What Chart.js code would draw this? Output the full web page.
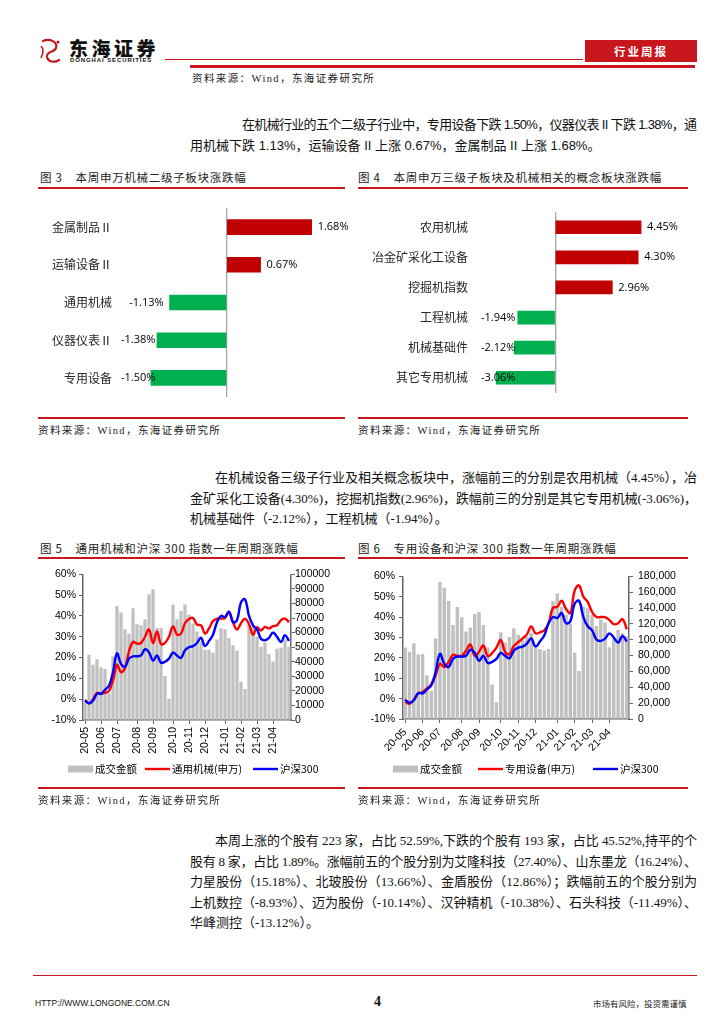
<!DOCTYPE html>
<html lang="zh-CN">
<head>
<meta charset="utf-8">
<title>机械行业周报</title>
<script src="https://cdn.jsdelivr.net/npm/chart.js@4.4.1/dist/chart.umd.min.js"></script>
<style>
  html, body { margin: 0; padding: 0; background: #fff; }
  body { width: 724px; height: 1024px; position: relative; overflow: hidden;
         font-family: "Liberation Serif", "Noto Sans CJK SC", serif; color: #111; }
  .abs { position: absolute; }
  .rule { position: absolute; background: #c8161d; }
  .cap { position: absolute; font-family: "Noto Sans CJK SC", sans-serif; font-size: 11.5px;
         letter-spacing: 0.7px; color: #222; white-space: nowrap; line-height: 14px; }
  .cap b { font-weight: normal; margin-left: 13px; }
  .src { position: absolute; font-family: "Liberation Serif", "Noto Sans CJK SC", serif; font-size: 10.5px;
         letter-spacing: 1.4px; color: #222; white-space: nowrap; line-height: 13px; }
  .txt { position: absolute; font-size: 13px; line-height: 16px; white-space: nowrap; color: #111; }
  .sans { font-family: "Liberation Sans", "Noto Sans CJK SC", sans-serif; }
  canvas { position: absolute; }
</style>
</head>
<body>

<!-- header -->
<svg class="abs" style="left:38px;top:37px" width="26" height="28" viewBox="0 0 26 28">
  <path d="M5 4 C12 1 20 5 18 11 C16 16 8 14 9 20 C10 25 17 26 21 23" fill="none" stroke="#c8161d" stroke-width="2.2" stroke-linecap="round"/>
  <path d="M3 9 C6 12 5 17 3 21" fill="none" stroke="#c8161d" stroke-width="1.6"/>
  <circle cx="20" cy="5" r="1.6" fill="#c8161d"/>
</svg>
<div class="abs" style="left:69px;top:38px;font:900 19px 'Noto Sans CJK SC';letter-spacing:3.5px;line-height:20px;color:#111">东海证券</div>
<div class="abs" style="left:70px;top:57px;font:bold 6px 'Liberation Sans';letter-spacing:0.9px;line-height:7px;color:#111">DONGHAI SECURITIES</div>
<div class="rule" style="left:165px;top:58.5px;width:418px;height:1.2px"></div>
<div class="abs" style="left:585px;top:40px;width:112px;height:22px;background:#c8161d;color:#fff;font:bold 11.5px 'Noto Sans CJK SC';letter-spacing:2px;line-height:22px;text-align:center">行业周报</div>
<div class="rule" style="left:190px;top:65px;width:505px;height:3px"></div>
<div class="src" style="left:192px;top:71.5px">资料来源：Wind，东海证券研究所</div>

<!-- paragraph 1 -->
<div class="txt fit" style="left:242px;top:117px"><span>在机械行业的五个二级子行业中，专用设备下跌<span class="sans"> 1.50%</span>，仪器仪表<span class="sans"> II </span>下跌<span class="sans"> 1.38%</span>，通</span></div>
<div class="txt" style="left:190px;top:138px"><span>用机械下跌<span class="sans"> 1.13%</span>，运输设备<span class="sans"> II </span>上涨<span class="sans"> 0.67%</span>，金属制品<span class="sans"> II </span>上涨<span class="sans"> 1.68%</span>。</span></div>

<!-- figures 3 / 4 -->
<div class="cap" style="left:40px;top:170px">图 3<b>本周申万机械二级子板块涨跌幅</b></div>
<div class="rule" style="left:38px;top:187px;width:307px;height:1.6px"></div>
<div class="cap" style="left:358px;top:170px">图 4<b>本周申万三级子板块及机械相关的概念板块涨跌幅</b></div>
<div class="rule" style="left:358px;top:187px;width:330px;height:1.6px"></div>
<canvas id="c3" width="310" height="215" style="left:38px;top:195px;width:310px;height:215px"></canvas>
<canvas id="c4" width="335" height="215" style="left:358px;top:195px;width:335px;height:215px"></canvas>
<div class="rule" style="left:38px;top:417px;width:307px;height:1.6px"></div>
<div class="rule" style="left:358px;top:417px;width:330px;height:1.6px"></div>
<div class="src" style="left:38px;top:423.5px">资料来源：Wind，东海证券研究所</div>
<div class="src" style="left:358px;top:423.5px">资料来源：Wind，东海证券研究所</div>

<!-- paragraph 2 -->
<div class="txt fit" style="left:215px;top:470px"><span>在机械设备三级子行业及相关概念板块中，涨幅前三的分别是农用机械（4.45%），冶</span></div>
<div class="txt fit" style="left:190px;top:490.5px"><span>金矿采化工设备(4.30%)，挖掘机指数(2.96%)，跌幅前三的分别是其它专用机械(-3.06%)，</span></div>
<div class="txt" style="left:190px;top:511px"><span>机械基础件（-2.12%），工程机械（-1.94%）。</span></div>

<!-- figures 5 / 6 -->
<div class="cap" style="left:40px;top:541px">图 5<b>通用机械和沪深 300 指数一年周期涨跌幅</b></div>
<div class="rule" style="left:38px;top:557px;width:307px;height:1.6px"></div>
<div class="cap" style="left:358px;top:541px">图 6<b>专用设备和沪深 300 指数一年周期涨跌幅</b></div>
<div class="rule" style="left:358px;top:557px;width:330px;height:1.6px"></div>
<canvas id="c5" width="320" height="225" style="left:30px;top:565px;width:320px;height:225px"></canvas>
<canvas id="c6" width="345" height="225" style="left:350px;top:565px;width:345px;height:225px"></canvas>
<div class="rule" style="left:38px;top:787px;width:307px;height:1.6px"></div>
<div class="rule" style="left:358px;top:787px;width:330px;height:1.6px"></div>
<div class="src" style="left:38px;top:793.5px">资料来源：Wind，东海证券研究所</div>
<div class="src" style="left:358px;top:793.5px">资料来源：Wind，东海证券研究所</div>

<!-- paragraph 3 -->
<div class="txt fit" style="left:215px;top:833px"><span>本周上涨的个股有 223 家，占比 52.59%,下跌的个股有 193 家，占比 45.52%,持平的个</span></div>
<div class="txt fit" style="left:190px;top:853.5px"><span>股有 8 家，占比 1.89%。涨幅前五的个股分别为艾隆科技（27.40%）、山东墨龙（16.24%）、</span></div>
<div class="txt fit" style="left:190px;top:874px"><span>力星股份（15.18%）、北玻股份（13.66%）、金盾股份（12.86%）；跌幅前五的个股分别为</span></div>
<div class="txt fit" style="left:190px;top:894.5px"><span>上机数控（-8.93%）、迈为股份（-10.14%）、汉钟精机（-10.38%）、石头科技（-11.49%）、</span></div>
<div class="txt" style="left:190px;top:915px"><span>华峰测控（-13.12%）。</span></div>

<!-- footer -->
<div class="rule" style="left:33px;top:974.5px;width:664px;height:1.4px"></div>
<div class="abs" style="left:35px;top:997px;font:8.5px 'Liberation Sans';line-height:12px;color:#111">HTTP://WWW.LONGONE.COM.CN</div>
<div class="abs" style="left:374px;top:994px;font:bold 14px 'Liberation Serif';line-height:16px;color:#111">4</div>
<div class="abs" style="left:593px;top:997px;font:8.5px 'Noto Sans CJK SC';line-height:12px;color:#222">市场有风险，投资需谨慎</div>

<script>
// 图3：申万机械二级子行业本周涨跌幅（%）
const subIndustries = ['金属制品Ⅱ', '运输设备Ⅱ', '通用机械', '仪器仪表Ⅱ', '专用设备'];
const subChanges = [1.68, 0.67, -1.13, -1.38, -1.50];

// 图4：三级子板块及概念板块本周涨跌幅（%）
const conceptNames = ['农用机械', '冶金矿采化工设备', '挖掘机指数', '工程机械', '机械基础件', '其它专用机械'];
const conceptChanges = [4.45, 4.30, 2.96, -1.94, -2.12, -3.06];

// 图5/图6：周度数据
const weeks = [
  '2020-05-08', '2020-05-15', '2020-05-22', '2020-05-29', '2020-06-05', '2020-06-12', '2020-06-19', '2020-06-24',
  '2020-07-03', '2020-07-10', '2020-07-17', '2020-07-24', '2020-07-31', '2020-08-07', '2020-08-14', '2020-08-21',
  '2020-08-28', '2020-09-04', '2020-09-11', '2020-09-18', '2020-09-25', '2020-09-30', '2020-10-09', '2020-10-16',
  '2020-10-23', '2020-10-30', '2020-11-06', '2020-11-13', '2020-11-20', '2020-11-27', '2020-12-04', '2020-12-11',
  '2020-12-18', '2020-12-25', '2020-12-31', '2021-01-08', '2021-01-15', '2021-01-22', '2021-01-29', '2021-02-05',
  '2021-02-10', '2021-02-19', '2021-02-26', '2021-03-05', '2021-03-12', '2021-03-19', '2021-03-26', '2021-04-02',
  '2021-04-09', '2021-04-16', '2021-04-23', '2021-04-30'
];

// 沪深300 累计涨跌幅（%）
const hs300 = [
  -0.5, -2, -0.8, 2.7, 2.5, 4.5, 6.5, 13, 22, 17,
  15.5, 19.5, 20.6, 20.6, 21, 24, 22.5, 18.5, 21, 17.5,
  18, 19.5, 22.4, 21, 19.8, 23.5, 25, 25.5, 27, 29.5,
  25.5, 28, 31, 37, 40, 39.5, 42, 37, 38, 46.5,
  48, 40, 35.5, 33.5, 29, 28.3, 29.5, 32, 30, 27.5,
  30.7, 28
];

// 通用机械(申万) 累计涨跌幅（%）与成交金额
const generalIdx = [
  -0.5, -2, 0, 3, 2.7, 3, 4, 9, 16.5, 13,
  15, 23, 27.5, 26.7, 27, 30, 33.5, 27, 32.5, 26.5,
  27, 30, 35, 31, 31.5, 36.5, 38.5, 39, 35.8, 35.5,
  31.5, 34, 37.5, 38.7, 38.7, 39, 41.9, 37, 33.5, 36.5,
  38.7, 36, 31, 34.5, 33, 34.7, 34, 35.1, 35.5, 38,
  38.7, 37
];
const generalVol = [
  12000, 44500, 37700, 41500, 35800, 34700, 18000, 43400, 78000, 73500,
  62000, 59000, 76500, 65500, 64800, 69000, 86000, 89500, 63000, 63000,
  30000, 14400, 78800, 69000, 74600, 79000, 72000, 66000, 60500, 53600,
  48000, 48000, 46000, 55000, 62800, 62000, 56000, 51000, 47500, 26000,
  21000, 65000, 64000, 57000, 50000, 53000, 45000, 40000, 48600, 49500,
  55000, 50000
];

// 专用设备(申万) 累计涨跌幅（%）与成交金额
const specialIdx = [
  -1.5, -2.5, -0.5, 2.6, 3.2, 5, 7, 11.5, 17, 15.5,
  18, 21.5, 21, 21, 23.5, 26.5, 21, 23, 26, 20.8,
  22.3, 25, 28.7, 22.9, 21.7, 25.8, 27.7, 29.5, 31.5, 35.4,
  32, 32.5, 33.5, 37, 44.5, 45, 48, 44, 42, 53,
  55.5, 50, 47.5, 42.5, 40, 40, 40, 38.5, 36.5, 37,
  39, 34
];
const specialVol = [
  89800, 84400, 95000, 81000, 81500, 54600, 35000, 101000, 172500, 165000,
  148500, 118000, 141000, 128000, 110000, 115000, 132000, 134500, 118000, 89800,
  43000, 20700, 109000, 96000, 103000, 114000, 106000, 100000, 104000, 108000,
  89000, 88000, 86000, 88000, 148000, 158000, 141000, 131000, 120000, 83000,
  60000, 141500, 139400, 131000, 117000, 125000, 121000, 90000, 102000, 112000,
  108000, 104000
];

const RED = '#c00000';
const GREEN = '#00b050';
const AXIS = '#666666';
const CJK = '"Noto Sans CJK SC", sans-serif';

Chart.defaults.font.family = '"Liberation Sans", Arial, sans-serif';
Chart.defaults.color = '#000';

// value labels next to the bars; negative labels never run into the category names
const valueLabels = {
  id: 'valueLabels',
  afterDatasetsDraw(chart) {
    const ctx = chart.ctx;
    const values = chart.data.datasets[0].data;
    ctx.save();
    ctx.font = '11px "Open Sans", sans-serif';
    ctx.fillStyle = '#000';
    ctx.textBaseline = 'middle';
    chart.getDatasetMeta(0).data.forEach((bar, i) => {
      const v = values[i];
      const text = v.toFixed(2) + '%';
      if (v < 0) {
        const w = ctx.measureText(text).width;
        ctx.textAlign = 'right';
        ctx.fillText(text, Math.max(bar.x - 6, chart.chartArea.left + w + 3), bar.y);
      } else {
        ctx.textAlign = 'left';
        ctx.fillText(text, bar.x + 6, bar.y);
      }
    });
    ctx.restore();
  }
};

function barChart(id, labels, values, opts) {
  new Chart(document.getElementById(id), {
    type: 'bar',
    data: {
      labels: labels,
      datasets: [{
        data: values,
        backgroundColor: values.map(v => v >= 0 ? RED : GREEN),
        barThickness: opts.thickness
      }]
    },
    options: {
      indexAxis: 'y',
      responsive: false,
      animation: false,
      layout: { padding: { top: 8, bottom: opts.bottom, right: opts.right } },
      plugins: { legend: { display: false }, tooltip: { enabled: false } },
      scales: {
        x: {
          min: opts.min,
          max: opts.max,
          ticks: { display: false, stepSize: 1 },
          border: { display: false },
          grid: {
            drawTicks: false,
            lineWidth: 1.3,
            color: c => (c.tick && c.tick.value === 0) ? '#a6a6a6' : 'rgba(0,0,0,0)'
          },
          afterFit: s => { s.height = 0; }
        },
        y: {
          ticks: { font: { family: CJK, size: 12 }, color: '#262626', padding: opts.pad },
          grid: { display: false, drawTicks: false },
          border: { display: false },
          afterFit: s => { s.width = opts.labelWidth; }
        }
      }
    },
    plugins: [valueLabels]
  });
}

barChart('c3', subIndustries, subChanges,
  { thickness: 15, min: -2.15, max: 2.3, labelWidth: 80, pad: 6, right: 5, bottom: 10 });
barChart('c4', conceptNames, conceptChanges,
  { thickness: 13, min: -4, max: 6, labelWidth: 120, pad: 10, right: 22, bottom: 9 });

// legend row drawn under the combo charts
function legendRow(y, xs) {
  return {
    id: 'legendRow',
    afterDraw(chart) {
      const ctx = chart.ctx;
      ctx.save();
      ctx.font = '10.5px "Noto Sans CJK SC", sans-serif';
      ctx.textBaseline = 'middle';
      chart.data.datasets.forEach((ds, i) => {
        const x = xs[i];
        if (ds.type === 'bar') {
          ctx.fillStyle = ds.backgroundColor;
          ctx.fillRect(x, y - 3.5, 25, 7);
        } else {
          ctx.strokeStyle = ds.borderColor;
          ctx.lineWidth = 2.4;
          ctx.beginPath();
          ctx.moveTo(x, y);
          ctx.lineTo(x + 25, y);
          ctx.stroke();
        }
        ctx.fillStyle = '#000';
        ctx.textAlign = 'left';
        ctx.fillText(ds.label, x + 27, y + 0.5);
      });
      ctx.restore();
    }
  };
}

function monthTick(i) {
  const cur = weeks[i];
  const prev = weeks[i - 1];
  return (!prev || prev.slice(0, 7) !== cur.slice(0, 7)) ? cur.slice(2, 7) : '';
}

function comboChart(id, vol, sector, sectorName, o) {
  new Chart(document.getElementById(id), {
    type: 'bar',
    data: {
      labels: weeks,
      datasets: [
        { type: 'bar', label: '成交金额', data: vol, yAxisID: 'y1',
          backgroundColor: '#c0c0c0', barThickness: o.barW, order: 3 },
        { type: 'line', label: sectorName, data: sector, yAxisID: 'y',
          borderColor: '#ff0000', borderWidth: 2.4, pointRadius: 0, tension: 0.4, order: 2 },
        { type: 'line', label: '沪深300', data: hs300, yAxisID: 'y',
          borderColor: '#0000ff', borderWidth: 2.4, pointRadius: 0, tension: 0.4, order: 1 }
      ]
    },
    options: {
      responsive: false,
      animation: false,
      layout: { padding: { top: 9, bottom: o.padBottom } },
      plugins: { legend: { display: false }, tooltip: { enabled: false } },
      scales: {
        x: {
          grid: {
            offset: false, drawOnChartArea: false, tickLength: 4,
            color: c => (c.tick && c.tick.label) ? AXIS : 'rgba(0,0,0,0)'
          },
          border: { color: AXIS, width: 1.5 },
          ticks: {
            autoSkip: false, maxRotation: o.rot, minRotation: o.rot, padding: 3,
            font: { size: 10.5 }, color: '#000',
            callback: (v, i) => monthTick(i)
          },
          afterFit: s => { s.height = o.xHeight; }
        },
        y: {
          position: 'left', min: -10, max: 60,
          ticks: { stepSize: 10, autoSkip: false, padding: o.leftPad, font: { size: 10.5 }, color: '#000',
                   callback: v => v + '%' },
          grid: { drawOnChartArea: false, tickLength: 4, color: AXIS },
          border: { color: AXIS, width: 1.5 },
          afterFit: s => { s.width = o.leftW; }
        },
        y1: {
          position: 'right', min: 0, max: o.volMax,
          ticks: { stepSize: o.volStep, autoSkip: false, padding: o.rightPad, font: { size: 10.5 }, color: '#000',
                   callback: o.volFmt },
          grid: { drawOnChartArea: false, tickLength: 4, color: AXIS },
          border: { color: AXIS, width: 1.5 },
          afterFit: s => { s.width = o.rightW; }
        }
      }
    },
    plugins: [legendRow(204, o.legendX)]
  });
}

comboChart('c5', generalVol, generalIdx, '通用机械(申万)', {
  barW: 2.6, rot: 90, xHeight: 40, padBottom: 30, leftW: 53, rightW: 59, leftPad: 3, rightPad: 0,
  volMax: 100000, volStep: 10000, volFmt: v => String(v), legendX: [38, 115, 223]
});
comboChart('c6', specialVol, specialIdx, '专用设备(申万)', {
  barW: 2.8, rot: 45, xHeight: 41, padBottom: 30, leftW: 53, rightW: 66, leftPad: 4, rightPad: 5,
  volMax: 180000, volStep: 20000, volFmt: v => v.toLocaleString('en-US'), legendX: [43, 128, 243]
});

// justify each full text line to the right margin
function fitLines() {
  document.querySelectorAll('.txt.fit').forEach(el => {
    const span = el.firstElementChild;
    span.style.letterSpacing = '0px';
    const target = 697 - el.offsetLeft;
    const n = Array.from(span.textContent).length;
    const w = span.getBoundingClientRect().width;
    span.style.letterSpacing = ((target - w) / (n - 1)) + 'px';
  });
}
fitLines();
if (document.fonts) document.fonts.ready.then(fitLines);
</script>
</body>
</html>
